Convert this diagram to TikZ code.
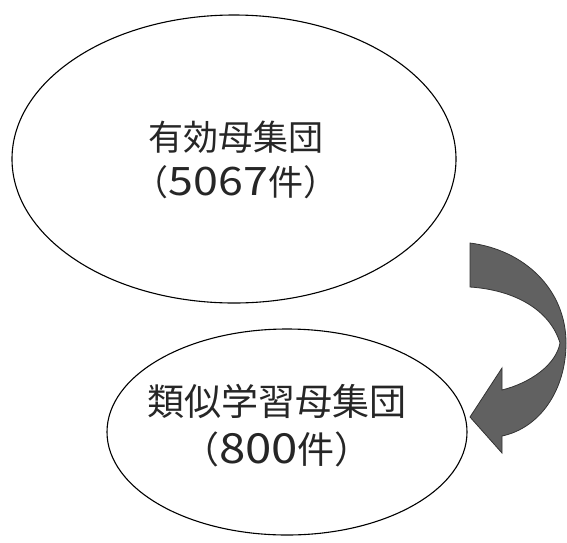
\documentclass[tikz,border=0pt]{standalone}
\usepackage{fontspec}
\newfontfamily\jp{Noto Sans CJK JP}
\usetikzlibrary{shapes.geometric}
\newcommand{\wdig}[1]{\scalebox{1.28}[1.12]{#1}}
\tikzset{
  popu/.style={ellipse, draw=black, line width=1.1pt, fill=white, inner sep=0pt},
  label1/.style={font=\jp\fontsize{35}{45}\selectfont, align=center, text=black!85},
  label2/.style={font=\jp\fontsize{37}{48}\selectfont, align=center, text=black!85},
  bigarrow/.style={fill=black!62, draw=black!80, line width=0.8pt, line join=miter}
}
\begin{document}
\begin{tikzpicture}[x=1pt,y=-1pt]
\useasboundingbox (0,0) rectangle (567,542);
\node[popu, minimum width=444pt, minimum height=288pt] (big) at (234,159) {};
\node[label1] (bigtext) at (236,160) {有効母集団\\（\wdig{5067}件）};
\node[popu, minimum width=360pt, minimum height=206pt] (small) at (287,432) {};
\node[label2] (smalltext) at (277,426) {類似学習母集団\\（\wdig{800}件）};
% curved arrow
\fill[bigarrow] (470,243)
  .. controls (525,250) and (566,290) .. (566,343)
  .. controls (566,390) and (540,428) .. (502,436)
  -- (502,453) -- (470,417) -- (502,368) -- (502,390)
  .. controls (530,383) and (556,365) .. (560,343)
  .. controls (550,310) and (515,290) .. (470,287)
  -- cycle;
\end{tikzpicture}
\end{document}
